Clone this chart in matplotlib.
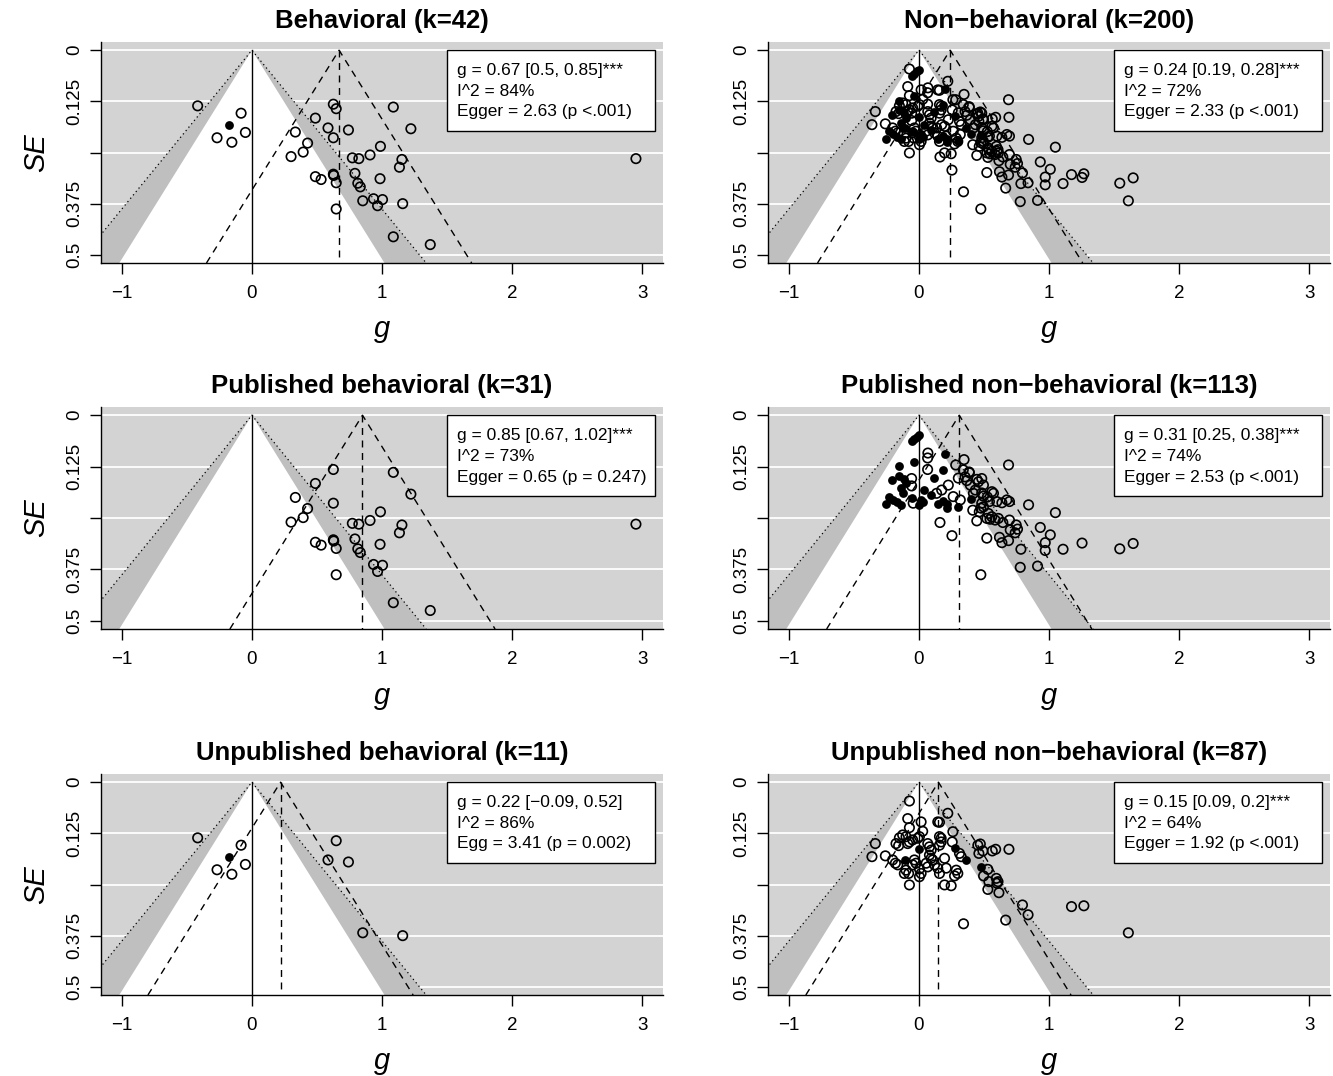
import matplotlib
matplotlib.use("Agg")
import matplotlib.pyplot as plt
from matplotlib.patches import Rectangle

plt.rcParams["font.family"] = ["Liberation Sans", "DejaVu Sans"]

# ---- data (g, SE) ----
# published behavioral (k=31), all open
pb_g = [0.626, 1.087, 0.488, 1.222, 0.334, 0.626, 0.428, 0.988, 0.394, 0.301,
        0.772, 0.822, 0.908, 1.153, 1.134, 2.952, 0.488, 0.532, 0.626, 0.629,
        0.648, 0.792, 0.814, 0.833, 0.985, 0.935, 1.004, 0.966, 0.648, 1.087,
        1.371]
pb_se = [0.132, 0.139, 0.166, 0.192, 0.200, 0.214, 0.227, 0.235, 0.249, 0.260,
         0.263, 0.265, 0.256, 0.267, 0.286, 0.265, 0.309, 0.316, 0.303, 0.306,
         0.324, 0.301, 0.325, 0.334, 0.314, 0.363, 0.365, 0.380, 0.388, 0.456,
         0.475]

# unpublished behavioral (k=11)
ub_g = [-0.417, -0.083, -0.050, -0.268, -0.154, 0.648, 0.585, 0.742, 0.852,
        1.159]
ub_se = [0.136, 0.154, 0.201, 0.214, 0.225, 0.143, 0.190, 0.195, 0.368, 0.375]
ub_fill_g = [-0.179]
ub_fill_se = [0.183]

# published non-behavioral (k=113)
pn_g = [0.069, 0.067, 0.067, -0.056, -0.056, 0.226, 0.175, 0.136, 0.264,
        -0.044, 0.162, 0.347, 0.689, 0.388, 0.355, 0.368, 0.445, 0.457, 0.483,
        0.496, 0.419, 0.483, 0.496, 0.561, 0.573, 0.542, 0.483, 0.496, 0.476,
        0.599, 0.638, 0.676, 0.696, 0.843, 0.414, 1.049, 0.534, 0.560, 0.547,
        0.522, 0.445, 0.611, 0.586, 0.645, 0.696, 0.748, 0.758, 0.702, 0.740,
        0.933, 1.010, 0.522, 0.619, 0.638, 0.689, 0.971, 1.254, 0.784, 0.971,
        1.108, 1.544, 1.647, 0.779, 0.912, 0.476, 0.283, 0.386, 0.254, 0.395,
        0.434, 0.526, 0.464, 0.318, 0.341, 0.303]
pn_se = [0.092, 0.104, 0.132, 0.154, 0.172, 0.170, 0.182, 0.190, 0.198,
         0.214, 0.261, 0.108, 0.121, 0.140, 0.150, 0.159, 0.156, 0.162, 0.154,
         0.170, 0.190, 0.189, 0.197, 0.186, 0.190, 0.210, 0.214, 0.223, 0.226,
         0.210, 0.213, 0.206, 0.210, 0.218, 0.231, 0.237, 0.239, 0.247, 0.253,
         0.251, 0.257, 0.251, 0.255, 0.261, 0.255, 0.267, 0.277, 0.279, 0.286,
         0.273, 0.291, 0.299, 0.297, 0.310, 0.305, 0.310, 0.311, 0.326, 0.329,
         0.326, 0.325, 0.312, 0.370, 0.367, 0.388, 0.121, 0.138, 0.293, 0.170,
         0.182, 0.199, 0.235, 0.206, 0.133, 0.153]
pn_fill_g = [-0.050, -0.035, -0.017, -0.002, 0.204, -0.156, -0.035, 0.183,
             -0.206, -0.156, -0.112, 0.119, -0.135, -0.099, -0.125, 0.042,
             0.096, -0.227, -0.201, -0.252, -0.171, -0.137, -0.050, 0.019,
             -0.002, 0.029, 0.145, 0.183, 0.214, 0.214, 0.299, 0.402]
pn_fill_se = [0.063, 0.057, 0.052, 0.049, 0.095, 0.123, 0.113, 0.133, 0.158,
              0.147, 0.154, 0.152, 0.178, 0.166, 0.190, 0.182, 0.194, 0.198,
              0.206, 0.217, 0.212, 0.218, 0.201, 0.206, 0.218, 0.212, 0.217,
              0.209, 0.217, 0.225, 0.223, 0.205]

# unpublished non-behavioral (k=87)
un_g = [-0.073, -0.086, 0.017, 0.145, 0.158, 0.222, -0.073, 0.029, -0.125,
        -0.150, -0.099, 0.004, -0.009, -0.048, -0.176, -0.156, -0.086, -0.073,
        0.158, 0.171, 0.261, -0.335, -0.361, -0.258, 0.068, 0.081, 0.094,
        0.158, 0.171, -0.202, -0.181, -0.163, -0.035, -0.022, -0.048, 0.081,
        0.094, 0.106, 0.056, 0.068, 0.197, -0.099, -0.079, -0.112, 0.004,
        0.017, 0.004, 0.120, 0.145, 0.158, 0.210, -0.073, 0.197, 0.248, 0.256,
        0.312, 0.325, 0.287, 0.299, 0.274, 0.453, 0.472, 0.461, 0.492, 0.564,
        0.590, 0.692, 0.530, 0.497, 0.538, 0.530, 0.595, 0.608, 0.600, 0.615,
        0.796, 0.839, 0.667, 1.173, 1.268, 1.610, 0.343]
un_se = [0.046, 0.089, 0.097, 0.097, 0.098, 0.076, 0.111, 0.120, 0.129, 0.136,
         0.133, 0.133, 0.137, 0.141, 0.150, 0.155, 0.150, 0.146, 0.133, 0.137,
         0.121, 0.150, 0.182, 0.180, 0.150, 0.158, 0.166, 0.154, 0.146, 0.190,
         0.198, 0.202, 0.190, 0.198, 0.202, 0.178, 0.186, 0.190, 0.198, 0.207,
         0.186, 0.215, 0.223, 0.223, 0.212, 0.223, 0.231, 0.202, 0.210, 0.223,
         0.210, 0.251, 0.251, 0.253, 0.146, 0.174, 0.182, 0.215, 0.223, 0.229,
         0.154, 0.151, 0.174, 0.168, 0.168, 0.164, 0.164, 0.213, 0.229, 0.243,
         0.262, 0.235, 0.243, 0.247, 0.270, 0.300, 0.324, 0.337, 0.304, 0.302,
         0.368, 0.346]
un_fill_g = [-0.002, -0.106, 0.274, 0.362, 0.477]
un_fill_se = [0.163, 0.189, 0.160, 0.190, 0.208]

titles = ["Behavioral (k=42)", "Non\u2212behavioral (k=200)",
          "Published behavioral (k=31)", "Published non\u2212behavioral (k=113)",
          "Unpublished behavioral (k=11)", "Unpublished non\u2212behavioral (k=87)"]
estimates = [0.67, 0.24, 0.85, 0.31, 0.22, 0.15]
stat_lines = [
    ["g = 0.67 [0.5, 0.85]***", "I^2 = 84%", "Egger = 2.63 (p <.001)"],
    ["g = 0.24 [0.19, 0.28]***", "I^2 = 72%", "Egger = 2.33 (p <.001)"],
    ["g = 0.85 [0.67, 1.02]***", "I^2 = 73%", "Egger = 0.65 (p = 0.247)"],
    ["g = 0.31 [0.25, 0.38]***", "I^2 = 74%", "Egger = 2.53 (p <.001)"],
    ["g = 0.22 [\u22120.09, 0.52]", "I^2 = 86%", "Egg = 3.41 (p = 0.002)"],
    ["g = 0.15 [0.09, 0.2]***", "I^2 = 64%", "Egger = 1.92 (p <.001)"],
]

open_pts = [(pb_g + ub_g, pb_se + ub_se), (pn_g + un_g, pn_se + un_se),
            (pb_g, pb_se), (pn_g, pn_se), (ub_g, ub_se), (un_g, un_se)]
fill_pts = [(ub_fill_g, ub_fill_se), (pn_fill_g + un_fill_g, pn_fill_se + un_fill_se),
            ([], []), (pn_fill_g, pn_fill_se), (ub_fill_g, ub_fill_se),
            (un_fill_g, un_fill_se)]

W, H = 1333, 1076
fig = plt.figure(figsize=(W / 100, H / 100), dpi=100)

cols = [(101, 663), (768, 1330)]
rows = [(42, 263), (407, 629), (774, 995)]

BG = "#d3d3d3"
BAND = "#bfbfbf"
YMAX = 0.52


def funnel(ax, est, og, ose, fg, fse, lines, title):
    ax.set_xlim(-1.16, 3.16)
    ax.set_ylim(YMAX, -0.02)
    ax.set_facecolor(BG)
    for y in [0, 0.125, 0.25, 0.375, 0.5]:
        ax.axhline(y, color="white", lw=1.3, zorder=1)
    # contour regions (99% band, 95% white)
    ax.fill([0, -2.576 * YMAX, 2.576 * YMAX], [0, YMAX, YMAX], color=BAND,
            lw=0, zorder=2)
    ax.fill([0, -1.96 * YMAX, 1.96 * YMAX], [0, YMAX, YMAX], color="white",
            lw=0, zorder=2)
    ax.plot([-2.576 * YMAX, 0, 2.576 * YMAX], [YMAX, 0, YMAX], color="k",
            lw=0.9, ls=(0, (1, 2.5)), zorder=3)
    ax.plot([0, 0], [0, YMAX], color="k", lw=1.0, zorder=3)
    # funnel around the estimate
    ax.plot([est - 1.96 * YMAX, est, est + 1.96 * YMAX], [YMAX, 0, YMAX],
            color="k", lw=1.0, ls=(0, (5, 4)), zorder=3)
    ax.plot([est, est], [0, YMAX], color="k", lw=1.0, ls=(0, (5, 4)), zorder=3)
    ax.scatter(og, ose, s=46, facecolors="none", edgecolors="k", lw=1.2,
               zorder=4)
    if len(fg):
        ax.scatter(fg, fse, s=40, color="k", lw=0, zorder=4)

    for s in ["top", "right"]:
        ax.spines[s].set_visible(False)
    for s in ["left", "bottom"]:
        ax.spines[s].set_linewidth(1.0)
    ax.set_xticks([-1, 0, 1, 2, 3])
    ax.set_xticklabels(["\u22121", "0", "1", "2", "3"])
    ax.set_yticks([0, 0.125, 0.25, 0.375, 0.5])
    ax.set_yticklabels(["0", "0.125", "", "0.375", "0.5"], rotation=90,
                       va="center")
    ax.tick_params(direction="out", length=8, width=1.0, labelsize=13.5)
    ax.tick_params(axis="x", pad=8)
    ax.tick_params(axis="y", pad=5)

    ax.add_patch(Rectangle((0.616, 0.597), 0.370, 0.367, transform=ax.transAxes,
                           facecolor="white", edgecolor="k", lw=1.0, zorder=5))
    for i, t in enumerate(lines):
        ax.text(0.633, 0.870 - 0.093 * i, t, transform=ax.transAxes,
                fontsize=12.5, va="center", ha="left", zorder=6)
    ax.set_title(title, fontsize=18.5, fontweight="bold", pad=10)


for k in range(6):
    r, c = divmod(k, 2)
    x0, x1 = cols[c]
    y0, y1 = rows[r]
    ax = fig.add_axes([x0 / W, 1 - y1 / H, (x1 - x0) / W, (y1 - y0) / H])
    funnel(ax, estimates[k], open_pts[k][0], open_pts[k][1],
           fill_pts[k][0], fill_pts[k][1], stat_lines[k], titles[k])
    ax.text(0.5, -0.3, "g", transform=ax.transAxes, fontsize=21,
            style="italic", ha="center", va="center")
    if c == 0:
        ax.text(-0.115, 0.5, "SE", transform=ax.transAxes, fontsize=21,
                style="italic", ha="center", va="center", rotation=90)

fig.savefig("out.png", dpi=100)
